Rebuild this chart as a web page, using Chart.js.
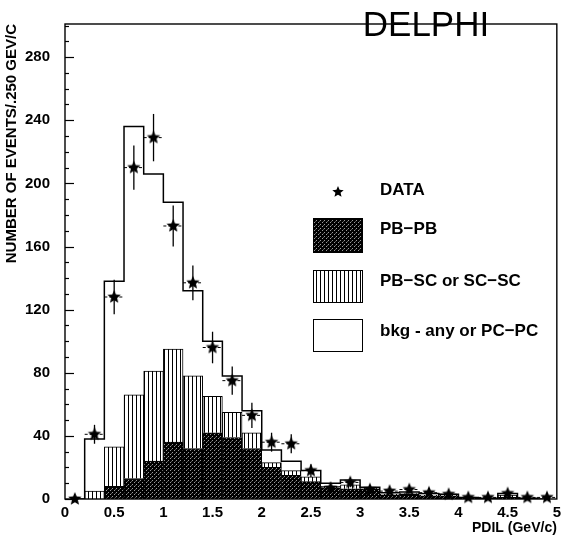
<!DOCTYPE html>
<html>
<head>
<meta charset="utf-8">
<script src="https://cdn.jsdelivr.net/npm/chart.js@4.4.0/dist/chart.umd.min.js"></script>
<style>
    html, body { margin: 0; padding: 0; background: #fff; }
</style>
</head>
<body>
<canvas id="pdilChart" width="566" height="539"></canvas>
<script>
// bin centres in GeV/c (bins are 0.2 wide, 0 -> 5)
const binCenters = [0.1, 0.3, 0.5, 0.7, 0.9, 1.1, 1.3, 1.5, 1.7, 1.9, 2.1, 2.3, 2.5,
                    2.7, 2.9, 3.1, 3.3, 3.5, 3.7, 3.9, 4.1, 4.3, 4.5, 4.7, 4.9];

// stacked simulation components
const pbpbCounts = [0, 0, 8, 13, 24, 36, 32, 42, 39, 32, 20, 15, 11,
                    7, 6.5, 6.5, 2.5, 3, 2, 2, 0.5, 0.5, 1, 0, 0];
const pbscCounts = [0, 5, 25, 53, 57, 59, 46, 23, 16, 10, 3, 3, 3,
                    1, 2.5, 0.5, 0.5, 0.5, 0.5, 0.5, 0, 0, 1.5, 0, 0];
const bkgCounts  = [0, 33, 105, 170, 125, 93, 54, 35, 23, 14, 8, 6, 4,
                    2, 3, 0.5, 1, 1, 1, 0.5, 0.5, 0, 1, 0.5, 0];

// measured points
const dataCounts = [0, 41, 128, 210, 229, 173, 137, 96, 75, 53, 36, 35, 18,
                    7, 10.5, 6, 5, 6, 4, 3, 1, 1, 3.5, 1, 1];
const dataErrors = [0, 6, 11, 14, 15, 13, 11, 10, 9, 8, 6, 6, 4,
                    3, 3, 2.5, 2, 2.5, 2, 2, 1, 1, 2, 1, 1];

const yMajorTicks = [0, 40, 80, 120, 160, 200, 240, 280];
const binWidth = 0.2;

// total simulated histogram, drawn as a step outline
const totalCounts = binCenters.map((x, i) => pbpbCounts[i] + pbscCounts[i] + bkgCounts[i]);

const canvas = document.getElementById('pdilChart');
const ctx = canvas.getContext('2d');

// Fill patterns for the histogram
function makePattern(w, h, draw) {
    const c = document.createElement('canvas');
    c.width = w;
    c.height = h;
    draw(c.getContext('2d'));
    return ctx.createPattern(c, 'repeat');
}

const darkFill = makePattern(4, 4, function(g) {
    g.fillStyle = '#000';
    g.fillRect(0, 0, 4, 4);
    g.fillStyle = '#9a9a9a';
    g.fillRect(0, 0, 1, 1);
    g.fillRect(2, 2, 1, 1);
    g.fillStyle = '#555';
    g.fillRect(3, 1, 1, 1);
});

const stripeFill = makePattern(4, 1, function(g) {
    g.fillStyle = '#fff';
    g.fillRect(0, 0, 4, 1);
    g.fillStyle = '#000';
    g.fillRect(0, 0, 1, 1);
});

// filled five-point star used as the data marker
function makeStar(r) {
    const s = Math.ceil(r * 2) + 2;
    const c = document.createElement('canvas');
    c.width = s;
    c.height = s;
    const g = c.getContext('2d');
    g.beginPath();
    for (let i = 0; i < 10; i++) {
        const rad = i % 2 === 0 ? r : r * 0.45;
        const a = -Math.PI / 2 + i * Math.PI / 5;
        const px = s / 2 + rad * Math.cos(a);
        const py = s / 2 + rad * Math.sin(a);
        if (i === 0) g.moveTo(px, py); else g.lineTo(px, py);
    }
    g.closePath();
    g.fillStyle = '#000';
    g.fill();
    return c;
}
const starMark = makeStar(7);
const starLegend = makeStar(6);

const toPoints = (vals) => binCenters.map((x, i) => ({ x: x, y: vals[i] }));

// error bars, inward ticks, frame, legend and label
const decorations = {
    id: 'decorations',
    afterDatasetsDraw(chart) {
        const g = chart.ctx;
        const xs = chart.scales.x, ys = chart.scales.y;
        g.save();
        g.strokeStyle = '#000';
        binCenters.forEach(function(x, i) {
            const px = xs.getPixelForValue(x);
            const py = ys.getPixelForValue(dataCounts[i]);
            if (dataErrors[i] > 0) {
                g.lineWidth = 1.3;
                g.setLineDash([]);
                g.beginPath();
                g.moveTo(px, ys.getPixelForValue(dataCounts[i] + dataErrors[i]));
                g.lineTo(px, ys.getPixelForValue(Math.max(0, dataCounts[i] - dataErrors[i])));
                g.stroke();
            }
            if (i > 0) {
                g.lineWidth = 1;
                g.setLineDash([3, 2]);
                g.beginPath();
                g.moveTo(xs.getPixelForValue(x - binWidth / 2), py);
                g.lineTo(xs.getPixelForValue(x + binWidth / 2), py);
                g.stroke();
            }
        });
        g.restore();
    },
    afterDraw(chart) {
        const g = chart.ctx;
        const a = chart.chartArea;
        const ys = chart.scales.y;
        g.save();
        g.strokeStyle = '#000';

        // frame
        g.lineWidth = 1.4;
        g.strokeRect(a.left, a.top, a.right - a.left, a.bottom - a.top);

        // inward y ticks: major every 40, minor every 10
        g.lineWidth = 1.2;
        for (let v = 0; v <= 300; v += 10) {
            const py = Math.round(ys.getPixelForValue(v)) + 0.5;
            const len = yMajorTicks.includes(v) ? 9 : 4;
            g.beginPath();
            g.moveTo(a.left, py);
            g.lineTo(a.left + len, py);
            g.stroke();
        }

        // DELPHI label
        g.fillStyle = '#000';
        g.font = '35px "Liberation Sans"';
        g.textAlign = 'center';
        g.textBaseline = 'middle';
        g.fillText('DELPHI', 426, 26);

        // legend
        g.font = 'bold 17px "Liberation Sans"';
        g.textAlign = 'left';
        g.drawImage(starLegend, 338 - starLegend.width / 2, 192 - starLegend.height / 2);
        g.fillText('DATA', 380, 190);

        const boxes = [
            { y: 218, h: 35, fill: darkFill, label: 'PB\u2212PB', ty: 229 },
            { y: 270, h: 33, fill: stripeFill, label: 'PB\u2212SC or SC\u2212SC', ty: 281 },
            { y: 319, h: 33, fill: '#fff', label: 'bkg - any or PC\u2212PC', ty: 331 }
        ];
        boxes.forEach(function(b) {
            g.fillStyle = b.fill;
            g.fillRect(313, b.y, 50, b.h);
            g.lineWidth = 1;
            g.strokeRect(313.5, b.y + 0.5, 49, b.h - 1);
            g.fillStyle = '#000';
            g.fillText(b.label, 380, b.ty);
        });
        g.restore();
    }
};

new Chart(canvas, {
    type: 'bar',
    data: {
        datasets: [
            {
                label: 'PB-PB',
                data: toPoints(pbpbCounts),
                backgroundColor: darkFill,
                borderColor: '#000',
                borderWidth: 1,
                barPercentage: 1,
                categoryPercentage: 1
            },
            {
                label: 'PB-SC or SC-SC',
                data: toPoints(pbscCounts),
                backgroundColor: stripeFill,
                borderColor: '#000',
                borderWidth: 1,
                barPercentage: 1,
                categoryPercentage: 1
            },
            {
                label: 'bkg - any or PC-PC',
                data: toPoints(bkgCounts),
                backgroundColor: '#fff',
                borderWidth: 0,
                barPercentage: 1,
                categoryPercentage: 1
            },
            {
                type: 'line',
                label: 'total',
                data: toPoints(totalCounts),
                stepped: 'middle',
                borderColor: '#000',
                borderWidth: 1.5,
                pointRadius: 0,
                fill: false,
                order: -0.5
            },
            {
                type: 'scatter',
                label: 'DATA',
                data: toPoints(dataCounts),
                pointStyle: starMark,
                order: -1,
                clip: false
            }
        ]
    },
    options: {
        responsive: false,
        animation: false,
        layout: { padding: { top: 7, right: 2, left: 0, bottom: 0 } },
        plugins: {
            legend: { display: false },
            tooltip: { enabled: false }
        },
        scales: {
            x: {
                type: 'linear',
                min: 0,
                max: 5,
                offset: false,
                stacked: true,
                afterFit: function(scale) { scale.height = 40; },
                grid: { display: false, drawTicks: false, offset: false },
                border: { display: false },
                ticks: {
                    stepSize: 0.5,
                    padding: 5,
                    maxRotation: 0,
                    autoSkip: false,
                    color: '#000',
                    font: { family: 'Liberation Sans', size: 15, weight: 'bold' },
                    callback: function(value) { return String(value); }
                },
                title: {
                    display: true,
                    text: 'PDIL (GeV/c)',
                    align: 'end',
                    color: '#000',
                    font: { family: 'Liberation Sans', size: 14, weight: 'bold' },
                    padding: { top: 0, bottom: 2 }
                }
            },
            y: {
                min: 0,
                max: 301,
                stacked: true,
                afterFit: function(scale) { scale.width = 65; },
                grid: { display: false, drawTicks: false },
                border: { display: false },
                ticks: {
                    stepSize: 40,
                    includeBounds: false,
                    padding: 15,
                    color: '#000',
                    font: { family: 'Liberation Sans', size: 15, weight: 'bold' },
                    callback: function(value) { return yMajorTicks.includes(value) ? value : ''; }
                },
                title: {
                    display: true,
                    text: 'NUMBER OF EVENTS/.250 GEV/C',
                    align: 'end',
                    color: '#000',
                    font: { family: 'Liberation Sans', size: 15, weight: 'bold' },
                    padding: { top: 3, bottom: 0 }
                }
            }
        }
    },
    plugins: [decorations]
});
</script>
</body>
</html>
